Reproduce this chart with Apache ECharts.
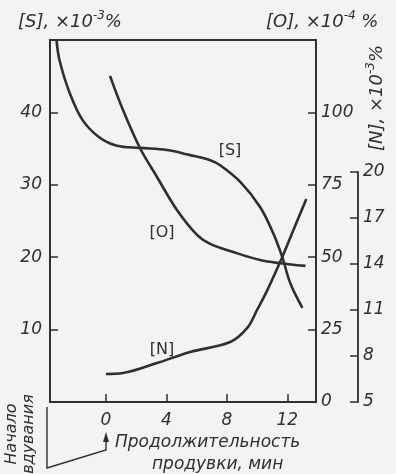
<!DOCTYPE html>
<html>
<head>
<meta charset="utf-8">
<script src="https://cdn.jsdelivr.net/npm/echarts@6/dist/echarts.min.js"></script>
<style>
html,body{margin:0;padding:0;background:#f3f3f1;}
#chart{width:396px;height:474px;}
</style>
</head>
<body>
<div id="chart"></div>
<script>
// ---- data ----
const sTime   = [-3.27, -3.07, -2.4, -1.53, -0.4, 0.73, 2.25, 4.04, 5.57, 6.9, 7.56, 8.89, 10.21, 11.07, 11.67, 12.2, 13.0];
const sValues = [50.0, 47.2, 42.7, 38.9, 36.5, 35.4, 35.1, 34.8, 34.1, 33.4, 32.7, 30.4, 26.9, 23.3, 20.0, 16.4, 13.0];

const oTime   = [0.27, 1.13, 2.25, 3.38, 4.7, 6.03, 6.9, 8.42, 10.2, 11.54, 13.2];
const oValues = [112.6, 100.8, 87.7, 77.7, 66.3, 57.7, 54.6, 51.8, 49.0, 47.9, 47.0];

const nTime   = [0.0, 1.13, 3.38, 5.57, 8.22, 9.35, 10.0, 10.68, 11.67, 12.4, 13.26];
const nValues = [6.83, 6.89, 7.54, 8.26, 8.91, 9.83, 11.0, 12.3, 14.46, 16.2, 18.24];

const xTicks = [0, 4, 8, 12];
const sTicks = [10, 20, 30, 40];
const oTicks = [0, 25, 50, 75, 100];
const nTicks = [5, 8, 11, 14, 17, 20];

const curveNames = ['[S]', '[O]', '[N]'];
const sAxisTitle = '[S], ×10';
const oAxisTitle = '[O], ×10';
const nAxisTitle = '[N], ×10';
const xAxisTitle1 = 'Продолжительность';
const xAxisTitle2 = 'продувки, мин';
const startNote = 'Начало\nвдувания';

// ---- chart ----
const INK = '#2f2f2f';
const FONT = '"DejaVu Sans", "Liberation Sans", sans-serif';
const labelStyle = {color: INK, fontStyle: 'italic', fontFamily: FONT, fontSize: 17};

const zip = (a, b) => a.map((v, i) => [v, b[i]]);

const chart = echarts.init(document.getElementById('chart'), null, {renderer: 'canvas'});

const option = {
  backgroundColor: '#f3f3f1',
  animation: false,
  grid: [
    {left: 50, right: 80, top: 40, bottom: 72, show: true, borderColor: INK, borderWidth: 1.8, backgroundColor: 'transparent'},
    {left: 50, right: 80, top: 172, bottom: 72, show: false}
  ],
  xAxis: [
    {gridIndex: 0, type: 'value', min: -3.7, max: 13.9,
     axisLine: {show: true, onZero: false, lineStyle: {color: INK, width: 1.8}},
     axisTick: {show: true, inside: true, length: 8, customValues: xTicks, lineStyle: {color: INK, width: 1.5}},
     axisLabel: Object.assign({customValues: xTicks, margin: 10}, labelStyle),
     splitLine: {show: false}},
    {gridIndex: 1, type: 'value', min: -3.7, max: 13.9, show: false, axisLine: {onZero: false}}
  ],
  yAxis: [
    {gridIndex: 0, type: 'value', position: 'left', min: 0, max: 50,
     axisLine: {show: true, onZero: false, lineStyle: {color: INK, width: 1.8}},
     axisTick: {show: true, inside: true, length: 8, customValues: sTicks, lineStyle: {color: INK, width: 1.5}},
     axisLabel: Object.assign({customValues: sTicks, margin: 8}, labelStyle),
     splitLine: {show: false}},
    {gridIndex: 0, type: 'value', position: 'right', min: 0, max: 125,
     axisLine: {show: true, onZero: false, lineStyle: {color: INK, width: 1.8}},
     axisTick: {show: true, inside: true, length: 8, customValues: [25, 50, 75, 100], lineStyle: {color: INK, width: 1.5}},
     axisLabel: Object.assign({customValues: oTicks, margin: 5}, labelStyle),
     splitLine: {show: false}},
    {gridIndex: 1, type: 'value', position: 'right', offset: 42, min: 5, max: 20,
     axisLine: {show: true, onZero: false, lineStyle: {color: INK, width: 1.8}},
     axisTick: {show: true, inside: true, length: 8, customValues: nTicks, lineStyle: {color: INK, width: 1.5}},
     axisLabel: Object.assign({customValues: nTicks, margin: 5}, labelStyle),
     splitLine: {show: false}}
  ],
  series: [
    {name: curveNames[0], type: 'line', xAxisIndex: 0, yAxisIndex: 0, data: zip(sTime, sValues),
     smooth: 0.35, showSymbol: false, lineStyle: {color: INK, width: 2.6}},
    {name: curveNames[1], type: 'line', xAxisIndex: 0, yAxisIndex: 1, data: zip(oTime, oValues),
     smooth: 0.35, showSymbol: false, lineStyle: {color: INK, width: 2.6}},
    {name: curveNames[2], type: 'line', xAxisIndex: 1, yAxisIndex: 2, data: zip(nTime, nValues),
     smooth: 0.35, showSymbol: false, lineStyle: {color: INK, width: 2.6}}
  ],
  graphic: [
    {type: 'text', left: 18, top: 10, style: {text: '{a|' + sAxisTitle + '}{s|-3}{a|%}', rich: {a: {fontSize: 18, lineHeight: 24, fontStyle: 'italic', fontFamily: FONT, fill: INK}, s: {fontSize: 12, verticalAlign: 'top', fontStyle: 'italic', fontFamily: FONT, fill: INK}}}},
    {type: 'text', left: 266, top: 10, style: {text: '{a|' + oAxisTitle + '}{s|-4}{a| %}', rich: {a: {fontSize: 18, lineHeight: 24, fontStyle: 'italic', fontFamily: FONT, fill: INK}, s: {fontSize: 12, verticalAlign: 'top', fontStyle: 'italic', fontFamily: FONT, fill: INK}}}},
    {type: 'text', x: 377, y: 98, rotation: Math.PI / 2, style: {text: '{a|' + nAxisTitle + '}{s|-3}{a|%}', align: 'center', verticalAlign: 'middle', rich: {a: {fontSize: 18, lineHeight: 24, fontStyle: 'italic', fontFamily: FONT, fill: INK}, s: {fontSize: 12, verticalAlign: 'top', fontStyle: 'italic', fontFamily: FONT, fill: INK}}}},
    {type: 'text', x: 230, y: 151, style: {text: curveNames[0], align: 'center', verticalAlign: 'middle', fontSize: 16, fontFamily: FONT, fill: INK}},
    {type: 'text', x: 162, y: 233, style: {text: curveNames[1], align: 'center', verticalAlign: 'middle', fontSize: 16, fontFamily: FONT, fill: INK}},
    {type: 'text', x: 162, y: 350, style: {text: curveNames[2], align: 'center', verticalAlign: 'middle', fontSize: 16, fontFamily: FONT, fill: INK}},
    {type: 'text', x: 20, y: 434, rotation: Math.PI / 2, style: {text: startNote, align: 'center', verticalAlign: 'middle', fontSize: 16, lineHeight: 17, fontStyle: 'italic', fontFamily: FONT, fill: INK}},
    {type: 'polyline', shape: {points: [[47, 407], [47, 468], [106, 450], [106, 440]]}, style: {stroke: INK, lineWidth: 1.4, fill: null}},
    {type: 'polygon', shape: {points: [[106, 432], [103, 442], [109, 442]]}, style: {fill: INK}},
    {type: 'text', left: 115, top: 434, style: {text: xAxisTitle1, fontSize: 17, fontStyle: 'italic', fontFamily: FONT, fill: INK}},
    {type: 'text', left: 152, top: 456, style: {text: xAxisTitle2, fontSize: 17, fontStyle: 'italic', fontFamily: FONT, fill: INK}}
  ]
};
chart.setOption(option);
</script>
</body>
</html>
